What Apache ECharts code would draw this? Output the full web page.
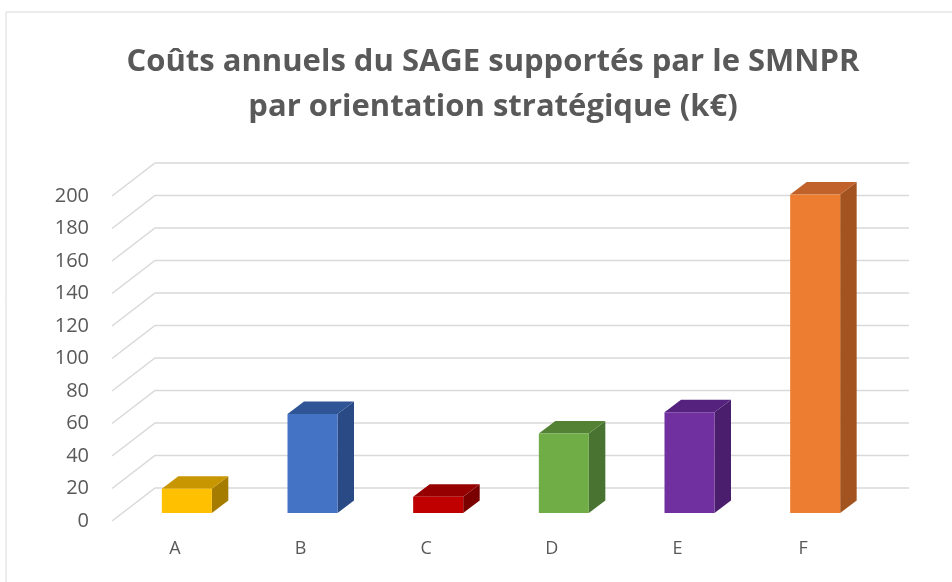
<!DOCTYPE html>
<html>
<head>
<meta charset="utf-8">
<script src="https://cdn.jsdelivr.net/npm/echarts@6/dist/echarts.min.js"></script>
<style>
  html, body { margin: 0; padding: 0; background: #ffffff; }
  #chart { width: 952px; height: 582px; }
</style>
</head>
<body>
<div id="chart"></div>
<script>
// Orientations stratégiques et coûts annuels (k€)
const categories = ['A', 'B', 'C', 'D', 'E', 'F'];
const costs = [15, 61, 10, 49, 62, 196];
const yTicks = [0, 20, 40, 60, 80, 100, 120, 140, 160, 180, 200];

// Face colours per bar: front, top, side
const frontColors = ['#FFC000', '#4472C4', '#C00000', '#70AD47', '#7030A0', '#ED7D31'];
const topColors   = ['#C89600', '#2F5597', '#960000', '#548235', '#55237E', '#C0622A'];
const sideColors  = ['#A67C00', '#2A4A86', '#7A0000', '#487330', '#4A1E6C', '#A3531F'];

// 3D projection settings
const WALL_DX = 43, WALL_DY = 33;      // floor depth (front edge -> back wall)
const BAR_DX = 16.5, BAR_DY = 12.5;    // bar thickness in depth
const BAR_SHIFT_X = 12, BAR_SHIFT_Y = 8; // bar front face offset from floor front edge
const BAR_HALF = 25;

const chart = echarts.init(document.getElementById('chart'), null, { renderer: 'canvas' });

function renderGridLine(params, api) {
  const cs = params.coordSys;
  const y = api.coord([0, api.value(1)])[1];
  return {
    type: 'polyline',
    shape: {
      points: [
        [cs.x, y],
        [cs.x + WALL_DX, y - WALL_DY],
        [cs.x + cs.width + WALL_DX, y - WALL_DY]
      ]
    },
    style: { stroke: '#d9d9d9', lineWidth: 1.5, fill: null }
  };
}

function renderBar(params, api) {
  const i = api.value(0);
  const v = api.value(1);
  const top = api.coord([i, v]);
  const base = api.coord([i, 0]);
  const x0 = top[0] + BAR_SHIFT_X - BAR_HALF;
  const x1 = x0 + BAR_HALF * 2;
  const yT = top[1] - BAR_SHIFT_Y;
  const yB = base[1] - BAR_SHIFT_Y;
  return {
    type: 'group',
    children: [
      {
        type: 'polygon',
        shape: { points: [[x1, yT], [x1 + BAR_DX, yT - BAR_DY], [x1 + BAR_DX, yB - BAR_DY], [x1, yB]] },
        style: { fill: sideColors[i] }
      },
      {
        type: 'polygon',
        shape: { points: [[x0, yT], [x1, yT], [x1 + BAR_DX, yT - BAR_DY], [x0 + BAR_DX, yT - BAR_DY]] },
        style: { fill: topColors[i] }
      },
      {
        type: 'rect',
        shape: { x: x0, y: yT, width: x1 - x0, height: yB - yT },
        style: { fill: frontColors[i] }
      }
    ]
  };
}

chart.setOption({
  backgroundColor: '#ffffff',
  animation: false,
  title: {
    text: 'Coûts annuels du SAGE supportés par le SMNPR\npar orientation stratégique (k€)',
    left: 488,
    top: 35,
    textAlign: 'center',
    textStyle: {
      fontFamily: 'Open Sans',
      fontWeight: 'bold',
      fontSize: 31,
      lineHeight: 45,
      color: '#595959'
    }
  },
  graphic: [{
    type: 'rect',
    silent: true,
    shape: { x: 6, y: 12, width: 1000, height: 700 },
    style: { fill: null, stroke: '#d9d9d9', lineWidth: 1 }
  }],
  grid: { left: 112, top: 196, width: 754, height: 325 },
  xAxis: {
    type: 'category',
    data: categories,
    axisLine: { show: false },
    axisTick: { show: false },
    axisLabel: {
      margin: 19,
      fontFamily: 'Open Sans',
      fontSize: 18,
      color: '#595959'
    }
  },
  yAxis: {
    type: 'value',
    min: 0,
    max: 200,
    interval: 20,
    axisLine: { show: false },
    axisTick: { show: false },
    splitLine: { show: false },
    axisLabel: {
      margin: 23,
      fontFamily: 'Open Sans',
      fontSize: 20,
      color: '#595959'
    }
  },
  series: [
    {
      type: 'custom',
      name: 'grid',
      clip: false,
      silent: true,
      z: 1,
      renderItem: renderGridLine,
      data: yTicks.map(v => [0, v])
    },
    {
      type: 'custom',
      name: 'Coûts (k€)',
      clip: false,
      z: 2,
      renderItem: renderBar,
      data: costs.map((v, i) => [i, v])
    }
  ]
});
</script>
</body>
</html>
